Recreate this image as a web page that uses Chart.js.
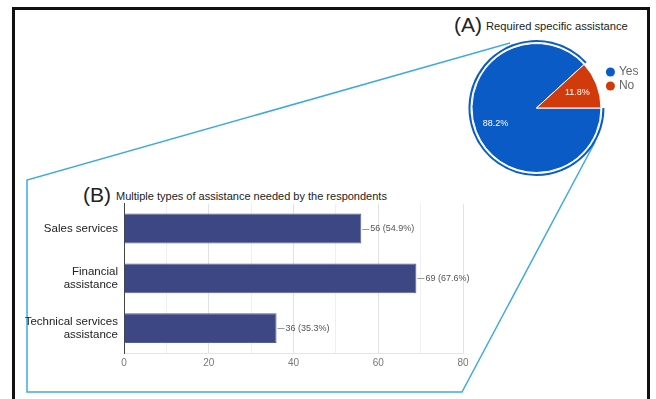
<!DOCTYPE html>
<html>
<head>
<meta charset="utf-8">
<script src="https://cdn.jsdelivr.net/npm/chart.js@4"></script>
<style>
  body { margin: 0; background: #fff; font-family: "Liberation Sans", Arial, sans-serif; }
  #wrap { position: relative; width: 656px; height: 399px; overflow: hidden; }
  #frame { position: absolute; left: 12px; top: 7px; width: 632px; height: 420px; border: 3px solid #111; }
  #zoomLines { position: absolute; left: 0; top: 0; }
  #pie { position: absolute; left: 460px; top: 36px; }
  #bars { position: absolute; left: 20px; top: 185px; }
  .ttl { position: absolute; color: #222; white-space: nowrap; }
  .big { font-size: 21px; line-height: 22px; }
  .small { font-size: 11.2px; line-height: 14px; }
</style>
</head>
<body>
<div id="wrap">
  <div id="frame"></div>
  <svg id="zoomLines" width="656" height="399">
    <polyline points="510,43 27,180 27,392 462,392 595,142" fill="none" stroke="#3fa9e6" stroke-width="1.5"/>
  </svg>
  <span class="ttl big" style="left:454px; top:14px;">(A)</span>
  <span class="ttl small" style="left:486px; top:19px;">Required specific assistance</span>
  <span class="ttl big" style="left:83px; top:184px;">(B)</span>
  <span class="ttl small" style="left:116px; top:189px; font-size:11px;">Multiple types of assistance needed by the respondents</span>
  <canvas id="pie" width="190" height="144"></canvas>
  <canvas id="bars" width="470" height="190"></canvas>
</div>
<script>
// (A) pie data
const pieLabels = ['Yes', 'No'];
const pieValues = [88.2, 11.8];
const pieColors = ['#0a5bc6', '#d13b0b'];

// (B) bar data
const barLabels = ['Sales services', ['Financial', 'assistance'], ['Technical services', 'assistance']];
const barValues = [56, 69, 36];
const barPercents = [54.9, 67.6, 35.3];

Chart.defaults.font.family = '"Liberation Sans", Arial, sans-serif';

// writes the percentages inside the pie slices
const pieText = {
  id: 'pieText',
  afterDatasetsDraw(chart) {
    const ctx = chart.ctx;
    const meta = chart.getDatasetMeta(2);
    ctx.save();
    ctx.fillStyle = '#fff';
    ctx.font = '9px "Liberation Sans", Arial, sans-serif';
    ctx.textAlign = 'center';
    ctx.textBaseline = 'middle';
    meta.data.forEach((arc, i) => {
      const p = arc.getProps(['x', 'y', 'startAngle', 'endAngle', 'outerRadius'], true);
      const mid = (p.startAngle + p.endAngle) / 2;
      const r = p.outerRadius * 0.68;
      ctx.fillText(pieValues[i].toFixed(1) + '%', p.x + Math.cos(mid) * r, p.y + Math.sin(mid) * r);
    });
    ctx.restore();
  }
};

new Chart(document.getElementById('pie'), {
  type: 'pie',
  data: {
    labels: pieLabels,
    datasets: [
      // thin outline ring round the "Yes" slice
      { data: pieValues, weight: 2, backgroundColor: [pieColors[0], 'rgba(0,0,0,0)'], borderWidth: 0 },
      // white gap
      { data: pieValues, weight: 1.5, backgroundColor: ['rgba(0,0,0,0)', 'rgba(0,0,0,0)'], borderWidth: 0 },
      // the pie itself
      { data: pieValues, weight: 64.5, backgroundColor: pieColors, borderColor: '#fff', borderWidth: 1 }
    ]
  },
  options: {
    responsive: false,
    animation: false,
    rotation: 90,
    layout: { padding: { left: 7, right: 1.5, top: 4, bottom: 4 } },
    plugins: {
      tooltip: { enabled: false },
      legend: {
        position: 'right',
        align: 'start',
        title: { display: true, text: '', font: { size: 10, lineHeight: 1 }, padding: { top: 14, bottom: 0 } },
        labels: {
          usePointStyle: true,
          boxWidth: 5,
          boxHeight: 6.4,
          padding: 2,
          color: '#222',
          font: { size: 12, lineHeight: 1 },
          generateLabels: () => pieLabels.map((t, i) => ({
            text: t, fillStyle: pieColors[i], strokeStyle: pieColors[i],
            lineWidth: 0, pointStyle: 'circle', hidden: false, index: i
          }))
        }
      }
    }
  },
  plugins: [pieText]
});

// leader line + "n (p%)" at the end of each bar
const barText = {
  id: 'barText',
  afterDatasetsDraw(chart) {
    const ctx = chart.ctx;
    const meta = chart.getDatasetMeta(0);
    ctx.save();
    ctx.font = '9px "Liberation Sans", Arial, sans-serif';
    ctx.textBaseline = 'middle';
    meta.data.forEach((bar, i) => {
      ctx.strokeStyle = '#999';
      ctx.lineWidth = 1;
      ctx.beginPath();
      ctx.moveTo(bar.x + 1, Math.round(bar.y) + 0.5);
      ctx.lineTo(bar.x + 8, Math.round(bar.y) + 0.5);
      ctx.stroke();
      ctx.fillStyle = '#555';
      ctx.fillText(barValues[i] + ' (' + barPercents[i].toFixed(1) + '%)', bar.x + 9, bar.y);
    });
    ctx.restore();
  }
};

new Chart(document.getElementById('bars'), {
  type: 'bar',
  data: {
    labels: barLabels,
    datasets: [{
      data: barValues,
      backgroundColor: '#3d4784',
      borderColor: '#55609a',
      borderWidth: 1,
      categoryPercentage: 1,
      barPercentage: 0.6
    }]
  },
  options: {
    indexAxis: 'y',
    responsive: false,
    animation: false,
    layout: { padding: { top: 8, right: 27, left: 0, bottom: 0 } },
    plugins: { legend: { display: false }, tooltip: { enabled: false } },
    scales: {
      x: {
        min: 0,
        max: 80,
        afterFit: s => { s.height = 22; },
        border: { display: true, color: '#e6e6e6' },
        grid: {
          drawTicks: false,
          color: c => (c.tick && c.tick.value % 20 === 0) ? '#e2e2e2' : '#efefef'
        },
        ticks: {
          stepSize: 10,
          autoSkip: false,
          maxRotation: 0,
          padding: 4,
          color: '#777',
          font: { size: 10 },
          callback: v => (v % 20 === 0 ? v : '')
        }
      },
      y: {
        afterFit: s => { s.width = 104; },
        border: { display: true, color: '#444' },
        grid: { display: false, drawTicks: false },
        ticks: { padding: 6, color: '#222', font: { size: 11.5, lineHeight: 1.1 } }
      }
    }
  },
  plugins: [barText]
});
</script>
</body>
</html>
